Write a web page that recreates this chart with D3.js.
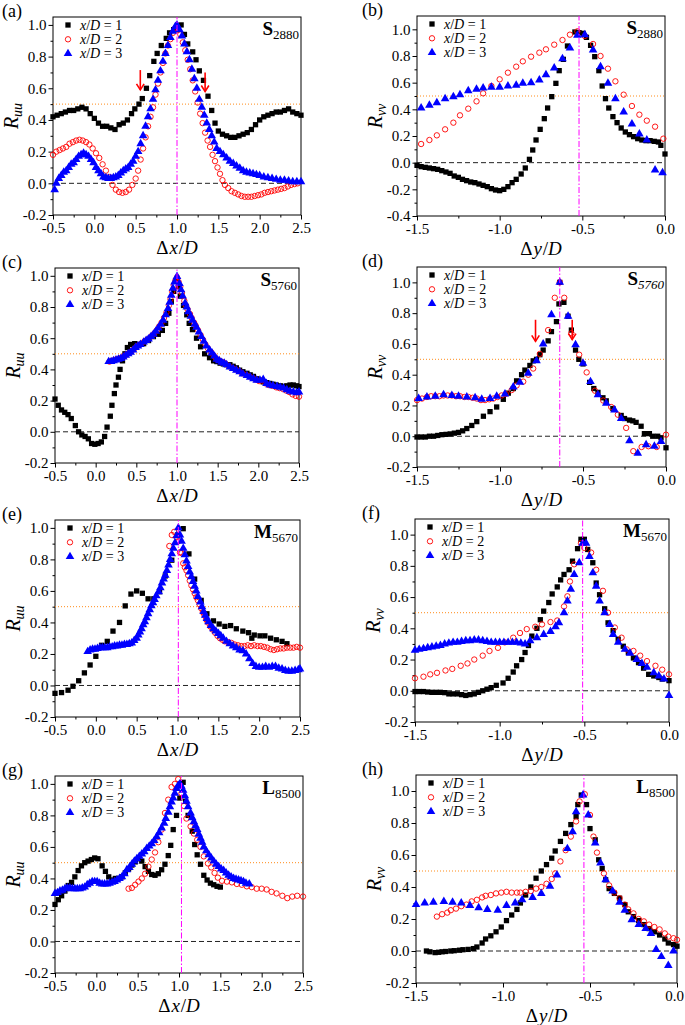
<!DOCTYPE html>
<html><head><meta charset="utf-8">
<script src="https://cdn.jsdelivr.net/npm/d3@7"></script>
<style>
body{margin:0;background:#fff}
svg{display:block}
text{font-family:"Liberation Serif","Times New Roman",serif;fill:#000}
</style>
</head><body>
<svg id="c" width="685" height="1025"></svg>
<script>
// ---------- tick labels / categories ----------
const xTicksU = [-0.5, 0.0, 0.5, 1.0, 1.5, 2.0, 2.5];
const xTicksV = [-1.5, -1.0, -0.5, 0.0];
const yTicksA = [-0.2, 0.0, 0.2, 0.4, 0.6, 0.8, 1.0];
const yTicksB = [-0.4, -0.2, 0.0, 0.2, 0.4, 0.6, 0.8, 1.0];
const seriesLabels = ["1", "2", "3"];
const panelTags = ["(a)","(b)","(c)","(d)","(e)","(f)","(g)","(h)"];
const caseLetters = ["S","S","S","S","M","M","L","L"];
const caseNumbers = ["2880","2880","5760","5760","5670","5670","8500","8500"];
const peakX = [1.0, -0.52, 1.0, -0.64, 1.01, -0.51, 1.03, -0.535];
const arrowsA = [[0.556, 0.715, 0.59], [1.34, 0.70, 0.58]];
const arrowsD = [[-0.786, 0.757, 0.617], [-0.565, 0.757, 0.628]];

// ---------- panel (a) R_uu S2880 ----------
const a1 = [[-0.5,0.42],[-0.45,0.43],[-0.4,0.44],[-0.35,0.45],[-0.3,0.46],[-0.25,0.46],[-0.2,0.47],[-0.15,0.48],[-0.1,0.47],[-0.05,0.44],[0,0.41],[0.05,0.38],[0.1,0.36],[0.15,0.36],[0.2,0.35],[0.25,0.34],[0.3,0.37],[0.35,0.38],[0.4,0.40],[0.45,0.44],[0.49,0.47],[0.54,0.5],[0.58,0.535],[0.63,0.6],[0.67,0.68],[0.72,0.77],[0.76,0.82],[0.81,0.87],[0.87,0.915],[0.91,0.95],[0.96,0.97],[1.0,0.99],[1.05,1.0],[1.09,0.94],[1.13,0.88],[1.19,0.83],[1.23,0.78],[1.27,0.71],[1.32,0.65],[1.375,0.55],[1.42,0.46],[1.46,0.38],[1.5,0.33],[1.55,0.31],[1.6,0.3],[1.65,0.29],[1.7,0.29],[1.75,0.3],[1.8,0.31],[1.85,0.32],[1.9,0.34],[1.95,0.37],[2.0,0.4],[2.05,0.42],[2.1,0.43],[2.15,0.44],[2.2,0.45],[2.25,0.45],[2.3,0.46],[2.35,0.47],[2.4,0.45],[2.45,0.44],[2.5,0.43]];
const a2 = [[-0.5,0.18],[-0.46,0.2],[-0.42,0.21],[-0.38,0.22],[-0.34,0.23],[-0.3,0.25],[-0.26,0.26],[-0.22,0.27],[-0.18,0.275],[-0.14,0.27],[-0.1,0.26],[-0.06,0.245],[-0.02,0.22],[0.02,0.19],[0.06,0.16],[0.1,0.12],[0.14,0.08],[0.18,0.04],[0.22,-0.01],[0.26,-0.04],[0.3,-0.055],[0.34,-0.06],[0.38,-0.055],[0.42,-0.04],[0.46,-0.01],[0.5,0.03],[0.53,0.08],[0.56,0.15],[0.59,0.22],[0.62,0.29],[0.65,0.36],[0.68,0.42],[0.71,0.48],[0.74,0.56],[0.77,0.63],[0.8,0.70],[0.83,0.76],[0.86,0.82],[0.89,0.87],[0.92,0.91],[0.95,0.95],[0.98,0.98],[1.01,0.97],[1.04,0.94],[1.07,0.89],[1.1,0.84],[1.13,0.78],[1.16,0.72],[1.19,0.65],[1.22,0.58],[1.25,0.51],[1.28,0.44],[1.31,0.38],[1.34,0.32],[1.37,0.27],[1.4,0.23],[1.43,0.18],[1.46,0.14],[1.49,0.1],[1.52,0.06],[1.55,0.02],[1.58,-0.01],[1.62,-0.03],[1.66,-0.05],[1.7,-0.06],[1.74,-0.07],[1.78,-0.08],[1.82,-0.085],[1.86,-0.085],[1.9,-0.085],[1.94,-0.08],[1.98,-0.075],[2.02,-0.07],[2.06,-0.06],[2.1,-0.055],[2.14,-0.05],[2.18,-0.045],[2.22,-0.04],[2.26,-0.035],[2.3,-0.03],[2.34,-0.02],[2.38,-0.01],[2.42,-0.005],[2.46,0.0]];
const a3 = [[-0.48,-0.04],[-0.46,0.0],[-0.43,0.03],[-0.4,0.05],[-0.37,0.07],[-0.34,0.08],[-0.31,0.1],[-0.28,0.12],[-0.25,0.13],[-0.22,0.15],[-0.19,0.17],[-0.16,0.18],[-0.13,0.19],[-0.1,0.18],[-0.07,0.17],[-0.04,0.15],[-0.01,0.13],[0.02,0.1],[0.05,0.08],[0.08,0.06],[0.11,0.04],[0.14,0.035],[0.17,0.03],[0.2,0.03],[0.23,0.035],[0.26,0.04],[0.29,0.05],[0.32,0.065],[0.35,0.08],[0.38,0.09],[0.41,0.1],[0.44,0.12],[0.47,0.14],[0.5,0.17],[0.53,0.2],[0.56,0.25],[0.59,0.3],[0.62,0.36],[0.65,0.42],[0.68,0.47],[0.71,0.53],[0.74,0.59],[0.77,0.65],[0.8,0.71],[0.83,0.77],[0.86,0.82],[0.89,0.87],[0.92,0.92],[0.95,0.96],[0.98,0.99],[1.0,1.0],[1.03,0.97],[1.06,0.93],[1.09,0.88],[1.12,0.83],[1.15,0.78],[1.18,0.72],[1.21,0.66],[1.24,0.6],[1.27,0.53],[1.3,0.48],[1.33,0.43],[1.36,0.38],[1.39,0.34],[1.42,0.3],[1.45,0.26],[1.48,0.22],[1.52,0.2],[1.56,0.18],[1.6,0.16],[1.64,0.14],[1.68,0.125],[1.72,0.11],[1.76,0.095],[1.8,0.08],[1.84,0.07],[1.88,0.065],[1.92,0.06],[1.96,0.055],[2.0,0.05],[2.05,0.04],[2.1,0.035],[2.15,0.03],[2.2,0.025],[2.25,0.02],[2.3,0.02],[2.35,0.015],[2.4,0.01],[2.45,0.01],[2.5,0.01]];

// ---------- panel (b) R_vv S2880 ----------
const b1 = [[-1.5,-0.02],[-1.475,-0.03],[-1.45,-0.035],[-1.425,-0.04],[-1.4,-0.045],[-1.375,-0.05],[-1.35,-0.06],[-1.325,-0.07],[-1.3,-0.08],[-1.275,-0.1],[-1.25,-0.11],[-1.225,-0.125],[-1.2,-0.135],[-1.175,-0.145],[-1.15,-0.15],[-1.125,-0.16],[-1.1,-0.17],[-1.075,-0.18],[-1.05,-0.195],[-1.025,-0.205],[-1.0,-0.21],[-0.975,-0.2],[-0.95,-0.18],[-0.925,-0.15],[-0.9,-0.125],[-0.87,-0.085],[-0.845,-0.04],[-0.82,0.025],[-0.8,0.095],[-0.78,0.17],[-0.755,0.25],[-0.73,0.33],[-0.71,0.41],[-0.685,0.495],[-0.66,0.595],[-0.64,0.69],[-0.615,0.775],[-0.59,0.875],[-0.545,0.98],[-0.52,0.975],[-0.495,0.97],[-0.475,0.94],[-0.45,0.88],[-0.425,0.795],[-0.4,0.69],[-0.38,0.575],[-0.36,0.48],[-0.34,0.41],[-0.315,0.345],[-0.29,0.3],[-0.265,0.26],[-0.24,0.23],[-0.215,0.21],[-0.19,0.195],[-0.165,0.18],[-0.14,0.17],[-0.115,0.165],[-0.09,0.165],[-0.065,0.16],[-0.04,0.155],[-0.025,0.13],[0,0.065]];
const b2 = [[-1.475,0.14],[-1.425,0.17],[-1.38,0.205],[-1.33,0.25],[-1.28,0.3],[-1.24,0.355],[-1.19,0.405],[-1.14,0.46],[-1.1,0.52],[-1.05,0.575],[-1.0,0.625],[-0.95,0.675],[-0.9,0.72],[-0.86,0.76],[-0.81,0.795],[-0.76,0.825],[-0.72,0.85],[-0.67,0.885],[-0.62,0.92],[-0.575,0.96],[-0.53,0.985],[-0.485,0.95],[-0.435,0.89],[-0.39,0.8],[-0.345,0.705],[-0.3,0.61],[-0.25,0.51],[-0.2,0.425],[-0.155,0.36],[-0.11,0.315],[-0.06,0.27],[-0.01,0.18]];
const b3 = [[-1.475,0.41],[-1.425,0.43],[-1.38,0.45],[-1.33,0.48],[-1.28,0.495],[-1.24,0.51],[-1.19,0.54],[-1.14,0.55],[-1.1,0.56],[-1.05,0.565],[-1.0,0.565],[-0.95,0.575],[-0.9,0.58],[-0.86,0.595],[-0.81,0.6],[-0.76,0.62],[-0.72,0.66],[-0.67,0.71],[-0.62,0.78],[-0.575,0.86],[-0.53,0.955],[-0.485,0.96],[-0.435,0.845],[-0.39,0.72],[-0.345,0.595],[-0.3,0.48],[-0.25,0.38],[-0.2,0.29],[-0.155,0.215],[-0.11,0.17],[-0.06,-0.055],[-0.015,-0.075]];

// ---------- panel (c) R_uu S5760 ----------
const c1 = [[-0.5,0.21],[-0.46,0.17],[-0.42,0.14],[-0.38,0.125],[-0.34,0.11],[-0.3,0.085],[-0.25,0.04],[-0.21,0.0],[-0.17,-0.02],[-0.13,-0.03],[-0.09,-0.045],[-0.05,-0.075],[-0.01,-0.08],[0.03,-0.075],[0.07,-0.065],[0.11,-0.03],[0.14,0.03],[0.18,0.1],[0.2,0.17],[0.23,0.245],[0.25,0.3],[0.28,0.35],[0.3,0.4],[0.33,0.455],[0.36,0.5],[0.39,0.54],[0.43,0.56],[0.48,0.565],[0.54,0.56],[0.59,0.565],[0.65,0.585],[0.71,0.61],[0.77,0.625],[0.82,0.65],[0.86,0.695],[0.9,0.76],[0.93,0.835],[0.96,0.9],[0.99,0.965],[1.02,0.93],[1.04,0.87],[1.08,0.81],[1.12,0.75],[1.15,0.695],[1.19,0.655],[1.24,0.6],[1.29,0.545],[1.34,0.5],[1.4,0.475],[1.45,0.455],[1.49,0.45],[1.53,0.44],[1.57,0.435],[1.61,0.43],[1.65,0.43],[1.69,0.42],[1.73,0.41],[1.77,0.395],[1.81,0.385],[1.86,0.375],[1.9,0.365],[1.94,0.355],[1.98,0.34],[2.02,0.33],[2.06,0.32],[2.1,0.315],[2.14,0.31],[2.18,0.305],[2.22,0.3],[2.27,0.295],[2.31,0.29],[2.35,0.295],[2.39,0.3],[2.43,0.3],[2.47,0.295],[2.5,0.29]];
const c2 = [[0.17,0.45],[0.2,0.455],[0.23,0.46],[0.26,0.465],[0.29,0.47],[0.32,0.475],[0.35,0.485],[0.38,0.495],[0.41,0.505],[0.44,0.515],[0.47,0.53],[0.5,0.545],[0.53,0.555],[0.56,0.565],[0.6,0.58],[0.63,0.59],[0.66,0.6],[0.69,0.615],[0.72,0.63],[0.75,0.65],[0.78,0.675],[0.81,0.7],[0.84,0.73],[0.87,0.765],[0.9,0.81],[0.92,0.85],[0.94,0.9],[0.96,0.94],[0.98,0.97],[1.0,0.99],[1.02,0.96],[1.04,0.93],[1.06,0.89],[1.09,0.84],[1.11,0.81],[1.13,0.785],[1.16,0.755],[1.18,0.73],[1.21,0.7],[1.23,0.68],[1.26,0.65],[1.29,0.62],[1.32,0.59],[1.35,0.56],[1.38,0.535],[1.42,0.51],[1.45,0.49],[1.48,0.47],[1.51,0.46],[1.54,0.45],[1.57,0.445],[1.6,0.435],[1.64,0.42],[1.68,0.41],[1.72,0.4],[1.76,0.39],[1.8,0.375],[1.85,0.365],[1.89,0.355],[1.93,0.345],[1.97,0.335],[2.01,0.325],[2.05,0.33],[2.09,0.31],[2.13,0.3],[2.17,0.295],[2.22,0.285],[2.26,0.28],[2.3,0.275],[2.34,0.265],[2.38,0.255],[2.42,0.24],[2.46,0.23],[2.5,0.225]];
const c3 = [[0.16,0.45],[0.19,0.45],[0.22,0.455],[0.25,0.46],[0.28,0.465],[0.31,0.47],[0.34,0.48],[0.37,0.49],[0.4,0.5],[0.43,0.51],[0.46,0.525],[0.49,0.54],[0.52,0.55],[0.55,0.56],[0.59,0.575],[0.62,0.585],[0.65,0.595],[0.68,0.61],[0.71,0.625],[0.74,0.645],[0.77,0.665],[0.8,0.69],[0.83,0.715],[0.86,0.75],[0.89,0.79],[0.91,0.83],[0.93,0.875],[0.95,0.92],[0.97,0.96],[1.0,0.995],[1.03,0.95],[1.05,0.91],[1.07,0.87],[1.1,0.825],[1.12,0.8],[1.14,0.77],[1.17,0.74],[1.19,0.715],[1.22,0.69],[1.24,0.67],[1.27,0.64],[1.3,0.61],[1.33,0.58],[1.36,0.55],[1.4,0.525],[1.43,0.505],[1.46,0.485],[1.49,0.465],[1.52,0.455],[1.55,0.445],[1.58,0.44],[1.61,0.43],[1.65,0.415],[1.69,0.405],[1.73,0.395],[1.77,0.385],[1.81,0.37],[1.86,0.36],[1.9,0.35],[1.94,0.34],[1.98,0.33],[2.02,0.33],[2.06,0.335],[2.1,0.31],[2.14,0.3],[2.18,0.295],[2.23,0.29],[2.27,0.285],[2.31,0.28],[2.35,0.27],[2.39,0.26],[2.43,0.255],[2.47,0.25],[2.5,0.255]];

// ---------- panel (d) R_vv S5760 ----------
const d1 = [[-1.5,-0.005],[-1.475,-0.005],[-1.45,-0.005],[-1.425,0.0],[-1.4,0.0],[-1.375,0.005],[-1.35,0.01],[-1.325,0.012],[-1.3,0.015],[-1.275,0.02],[-1.25,0.025],[-1.225,0.035],[-1.2,0.05],[-1.17,0.07],[-1.14,0.095],[-1.1,0.13],[-1.06,0.16],[-1.02,0.19],[-0.98,0.24],[-0.95,0.28],[-0.92,0.31],[-0.9,0.36],[-0.87,0.4],[-0.85,0.43],[-0.82,0.46],[-0.8,0.49],[-0.78,0.5],[-0.76,0.53],[-0.74,0.56],[-0.71,0.62],[-0.69,0.68],[-0.66,0.745],[-0.645,0.86],[-0.64,1.0],[-0.615,0.87],[-0.59,0.78],[-0.57,0.69],[-0.545,0.56],[-0.525,0.5],[-0.5,0.47],[-0.46,0.35],[-0.435,0.31],[-0.41,0.285],[-0.38,0.25],[-0.36,0.23],[-0.32,0.18],[-0.27,0.135],[-0.25,0.115],[-0.22,0.105],[-0.2,0.1],[-0.18,0.09],[-0.15,0.065],[-0.13,0.017],[-0.1,0.017],[-0.08,0.0],[-0.05,0.0],[-0.03,-0.01],[0.0,-0.075]];
const d2 = [[-1.5,0.235],[-1.47,0.245],[-1.44,0.255],[-1.415,0.26],[-1.39,0.26],[-1.365,0.26],[-1.34,0.265],[-1.315,0.265],[-1.29,0.265],[-1.265,0.26],[-1.24,0.26],[-1.215,0.255],[-1.19,0.255],[-1.165,0.25],[-1.14,0.245],[-1.115,0.235],[-1.09,0.235],[-1.065,0.24],[-1.04,0.245],[-1.015,0.255],[-0.99,0.265],[-0.965,0.275],[-0.93,0.3],[-0.9,0.33],[-0.86,0.355],[-0.83,0.4],[-0.8,0.44],[-0.76,0.535],[-0.71,0.69],[-0.67,0.9],[-0.64,1.0],[-0.613,0.9],[-0.57,0.67],[-0.523,0.53],[-0.478,0.415],[-0.428,0.296],[-0.378,0.232],[-0.33,0.19],[-0.29,0.14],[-0.24,0.054],[-0.197,-0.097],[-0.147,-0.07],[-0.106,-0.065],[-0.056,-0.07],[0.0,0.01]];
const d3s = [[-1.49,0.245],[-1.44,0.255],[-1.39,0.26],[-1.34,0.27],[-1.29,0.265],[-1.25,0.26],[-1.2,0.255],[-1.15,0.25],[-1.11,0.24],[-1.06,0.245],[-1.02,0.26],[-0.97,0.275],[-0.92,0.32],[-0.88,0.35],[-0.83,0.41],[-0.78,0.49],[-0.74,0.6],[-0.69,0.79],[-0.64,1.0],[-0.59,0.78],[-0.545,0.595],[-0.5,0.475],[-0.455,0.355],[-0.41,0.27],[-0.36,0.215],[-0.31,0.17],[-0.27,0.115],[-0.22,-0.03],[-0.17,-0.11],[-0.12,-0.055],[-0.07,-0.065],[-0.03,-0.035]];

// ---------- panel (e) R_uu M5670 ----------
const e1 = [[-0.5,-0.05],[-0.42,-0.045],[-0.34,-0.03],[-0.28,-0.005],[-0.21,0.03],[-0.14,0.08],[-0.07,0.13],[0.0,0.185],[0.07,0.255],[0.14,0.28],[0.21,0.345],[0.29,0.4],[0.36,0.505],[0.43,0.58],[0.5,0.6],[0.57,0.585],[0.64,0.55],[0.71,0.55],[0.78,0.595],[0.85,0.695],[0.93,0.795],[1.0,0.955],[1.07,0.995],[1.14,0.835],[1.21,0.675],[1.29,0.54],[1.36,0.455],[1.44,0.41],[1.51,0.39],[1.58,0.375],[1.65,0.38],[1.72,0.36],[1.8,0.345],[1.87,0.335],[1.91,0.3],[1.94,0.32],[2.01,0.315],[2.07,0.315],[2.14,0.3],[2.21,0.29],[2.28,0.28],[2.34,0.265]];
const e2 = [[0.9,0.885],[0.93,0.955],[0.96,0.975],[0.99,0.94],[1.01,0.915],[1.03,0.845],[1.05,0.84],[1.07,0.775],[1.09,0.75],[1.11,0.73],[1.13,0.7],[1.15,0.665],[1.17,0.635],[1.19,0.61],[1.21,0.585],[1.23,0.56],[1.25,0.54],[1.27,0.515],[1.29,0.49],[1.31,0.465],[1.33,0.445],[1.35,0.42],[1.37,0.4],[1.4,0.375],[1.43,0.355],[1.46,0.335],[1.49,0.315],[1.52,0.3],[1.55,0.29],[1.58,0.28],[1.62,0.275],[1.66,0.27],[1.7,0.26],[1.74,0.255],[1.78,0.25],[1.82,0.25],[1.86,0.255],[1.9,0.25],[1.94,0.255],[1.98,0.25],[2.02,0.25],[2.06,0.245],[2.1,0.24],[2.14,0.23],[2.18,0.225],[2.22,0.23],[2.26,0.235],[2.3,0.235],[2.34,0.24],[2.38,0.24],[2.42,0.24],[2.46,0.245],[2.5,0.24]];
const e3 = [[-0.1,0.215],[-0.07,0.225],[-0.04,0.23],[-0.01,0.23],[0.02,0.235],[0.05,0.24],[0.08,0.24],[0.11,0.24],[0.14,0.24],[0.17,0.245],[0.2,0.245],[0.23,0.25],[0.26,0.25],[0.29,0.255],[0.32,0.255],[0.35,0.26],[0.38,0.26],[0.41,0.265],[0.44,0.27],[0.47,0.285],[0.5,0.3],[0.52,0.32],[0.54,0.34],[0.56,0.36],[0.58,0.385],[0.6,0.405],[0.62,0.43],[0.64,0.455],[0.66,0.48],[0.68,0.505],[0.7,0.525],[0.72,0.545],[0.74,0.57],[0.77,0.595],[0.79,0.62],[0.81,0.65],[0.83,0.675],[0.85,0.7],[0.87,0.73],[0.89,0.765],[0.91,0.8],[0.93,0.835],[0.95,0.87],[0.97,0.905],[0.99,0.95],[1.01,1.0],[1.03,0.955],[1.05,0.915],[1.07,0.87],[1.09,0.83],[1.11,0.79],[1.13,0.755],[1.15,0.72],[1.17,0.69],[1.19,0.66],[1.21,0.63],[1.23,0.6],[1.25,0.565],[1.28,0.53],[1.3,0.5],[1.32,0.47],[1.34,0.445],[1.36,0.425],[1.38,0.405],[1.41,0.38],[1.44,0.36],[1.47,0.345],[1.5,0.33],[1.53,0.315],[1.56,0.3],[1.6,0.28],[1.64,0.265],[1.68,0.25],[1.72,0.24],[1.76,0.225],[1.8,0.22],[1.84,0.2],[1.88,0.17],[1.92,0.14],[1.96,0.12],[2.0,0.115],[2.04,0.115],[2.08,0.12],[2.12,0.115],[2.16,0.12],[2.2,0.12],[2.24,0.11],[2.28,0.105],[2.32,0.095],[2.36,0.09],[2.4,0.09],[2.44,0.095],[2.48,0.1],[2.5,0.105]];

// ---------- panel (f) R_vv M5670 ----------
const f1 = [[-1.5,-0.005],[-1.475,-0.005],[-1.45,-0.005],[-1.425,-0.008],[-1.4,-0.01],[-1.375,-0.01],[-1.35,-0.01],[-1.325,-0.012],[-1.3,-0.02],[-1.275,-0.02],[-1.25,-0.02],[-1.225,-0.025],[-1.2,-0.03],[-1.175,-0.025],[-1.15,-0.02],[-1.125,-0.01],[-1.1,0.0],[-1.075,0.01],[-1.05,0.02],[-1.02,0.035],[-0.98,0.05],[-0.95,0.08],[-0.92,0.12],[-0.9,0.16],[-0.87,0.2],[-0.85,0.245],[-0.83,0.29],[-0.81,0.35],[-0.78,0.4],[-0.76,0.455],[-0.74,0.51],[-0.71,0.565],[-0.69,0.62],[-0.66,0.665],[-0.64,0.71],[-0.62,0.745],[-0.59,0.775],[-0.57,0.83],[-0.54,0.91],[-0.52,0.97],[-0.5,0.97],[-0.48,0.905],[-0.45,0.82],[-0.43,0.69],[-0.41,0.615],[-0.38,0.525],[-0.36,0.435],[-0.33,0.385],[-0.3,0.33],[-0.27,0.285],[-0.24,0.245],[-0.21,0.21],[-0.18,0.18],[-0.15,0.145],[-0.12,0.105],[-0.09,0.095],[-0.06,0.085],[-0.04,0.075],[0.0,0.065]];
const f2 = [[-1.5,0.08],[-1.45,0.09],[-1.41,0.105],[-1.37,0.115],[-1.32,0.13],[-1.28,0.14],[-1.23,0.16],[-1.19,0.175],[-1.15,0.2],[-1.1,0.225],[-1.06,0.255],[-1.01,0.275],[-0.97,0.31],[-0.92,0.34],[-0.88,0.37],[-0.84,0.395],[-0.79,0.41],[-0.75,0.425],[-0.7,0.44],[-0.66,0.45],[-0.62,0.54],[-0.6,0.605],[-0.585,0.7],[-0.56,0.81],[-0.52,0.945],[-0.5,0.915],[-0.46,0.885],[-0.43,0.775],[-0.39,0.64],[-0.36,0.5],[-0.32,0.405],[-0.28,0.34],[-0.25,0.265],[-0.21,0.255],[-0.17,0.225],[-0.13,0.19],[-0.08,0.16],[-0.04,0.135],[0.0,0.105]];
const f3 = [[-1.5,0.26],[-1.475,0.265],[-1.45,0.27],[-1.425,0.275],[-1.4,0.28],[-1.375,0.285],[-1.35,0.29],[-1.325,0.3],[-1.3,0.305],[-1.275,0.31],[-1.25,0.31],[-1.225,0.315],[-1.2,0.32],[-1.175,0.32],[-1.15,0.325],[-1.125,0.325],[-1.1,0.32],[-1.075,0.315],[-1.05,0.31],[-1.025,0.31],[-1.0,0.31],[-0.975,0.31],[-0.95,0.31],[-0.925,0.31],[-0.9,0.31],[-0.875,0.305],[-0.85,0.3],[-0.82,0.32],[-0.78,0.34],[-0.74,0.36],[-0.7,0.38],[-0.67,0.41],[-0.65,0.435],[-0.62,0.5],[-0.6,0.575],[-0.58,0.65],[-0.56,0.745],[-0.53,0.82],[-0.51,0.945],[-0.49,0.945],[-0.47,0.86],[-0.45,0.755],[-0.43,0.67],[-0.41,0.575],[-0.38,0.5],[-0.35,0.425],[-0.33,0.36],[-0.3,0.31],[-0.26,0.265],[-0.23,0.24],[-0.19,0.2],[-0.16,0.175],[-0.13,0.15],[-0.09,0.115],[-0.06,0.095],[-0.03,0.075],[0.0,-0.03]];

// ---------- panel (g) R_uu L8500 ----------
const g1 = [[-0.5,0.235],[-0.46,0.265],[-0.42,0.29],[-0.38,0.32],[-0.34,0.355],[-0.3,0.375],[-0.26,0.41],[-0.22,0.45],[-0.18,0.48],[-0.14,0.5],[-0.1,0.51],[-0.06,0.52],[-0.02,0.53],[0.02,0.525],[0.07,0.48],[0.11,0.445],[0.15,0.41],[0.19,0.39],[0.23,0.4],[0.27,0.4],[0.31,0.41],[0.35,0.435],[0.39,0.46],[0.43,0.485],[0.47,0.505],[0.51,0.525],[0.55,0.51],[0.59,0.475],[0.63,0.445],[0.67,0.425],[0.71,0.42],[0.75,0.43],[0.79,0.455],[0.83,0.49],[0.87,0.545],[0.9,0.61],[0.93,0.71],[0.97,0.8],[1.01,0.91],[1.05,1.01],[1.08,0.89],[1.11,0.8],[1.16,0.7],[1.19,0.615],[1.22,0.55],[1.26,0.49],[1.3,0.42],[1.34,0.39],[1.38,0.37],[1.42,0.36],[1.46,0.35],[1.5,0.345]];
const g2 = [[0.39,0.335],[0.43,0.34],[0.47,0.36],[0.51,0.38],[0.55,0.4],[0.59,0.43],[0.63,0.475],[0.67,0.52],[0.71,0.565],[0.75,0.63],[0.79,0.71],[0.83,0.815],[0.87,0.9],[0.91,0.98],[0.95,1.0],[0.99,1.03],[1.03,0.94],[1.06,0.86],[1.09,0.78],[1.14,0.73],[1.18,0.685],[1.22,0.645],[1.26,0.6],[1.3,0.54],[1.35,0.495],[1.39,0.47],[1.43,0.435],[1.47,0.405],[1.52,0.385],[1.58,0.38],[1.64,0.375],[1.7,0.365],[1.76,0.36],[1.82,0.35],[1.88,0.345],[1.94,0.335],[2.0,0.335],[2.06,0.33],[2.12,0.315],[2.18,0.305],[2.25,0.29],[2.31,0.275],[2.37,0.285],[2.43,0.29],[2.5,0.285]];
const g3 = [[-0.5,0.305],[-0.47,0.31],[-0.44,0.32],[-0.41,0.325],[-0.38,0.335],[-0.35,0.34],[-0.32,0.34],[-0.29,0.335],[-0.26,0.335],[-0.23,0.335],[-0.2,0.335],[-0.17,0.34],[-0.14,0.345],[-0.11,0.36],[-0.08,0.37],[-0.05,0.38],[-0.02,0.38],[0.01,0.38],[0.04,0.37],[0.07,0.365],[0.1,0.365],[0.13,0.365],[0.16,0.37],[0.19,0.375],[0.22,0.38],[0.25,0.39],[0.28,0.4],[0.31,0.41],[0.34,0.43],[0.37,0.455],[0.4,0.47],[0.43,0.49],[0.46,0.51],[0.49,0.525],[0.52,0.54],[0.55,0.555],[0.58,0.57],[0.61,0.59],[0.64,0.605],[0.67,0.62],[0.7,0.64],[0.73,0.665],[0.76,0.69],[0.79,0.72],[0.82,0.75],[0.84,0.78],[0.87,0.82],[0.89,0.855],[0.91,0.885],[0.93,0.91],[0.95,0.94],[0.97,0.97],[0.99,0.99],[1.01,1.0],[1.03,0.985],[1.05,0.96],[1.07,0.925],[1.09,0.89],[1.11,0.855],[1.14,0.815],[1.16,0.785],[1.18,0.76],[1.2,0.735],[1.22,0.71],[1.24,0.68],[1.26,0.655],[1.28,0.63],[1.3,0.6],[1.33,0.575],[1.36,0.55],[1.39,0.53],[1.42,0.51],[1.45,0.49],[1.48,0.475],[1.51,0.46],[1.54,0.45],[1.57,0.435],[1.6,0.42],[1.63,0.41],[1.66,0.4],[1.69,0.395],[1.72,0.39],[1.75,0.385],[1.78,0.38],[1.81,0.37],[1.85,0.365]];

// ---------- panel (h) R_vv L8500 ----------
const h1 = [[-1.44,0.0],[-1.42,-0.005],[-1.39,-0.01],[-1.37,-0.008],[-1.35,-0.005],[-1.33,-0.003],[-1.3,0.0],[-1.28,0.002],[-1.25,0.005],[-1.23,0.008],[-1.2,0.01],[-1.17,0.015],[-1.15,0.025],[-1.12,0.05],[-1.1,0.075],[-1.07,0.095],[-1.04,0.12],[-1.01,0.15],[-0.98,0.19],[-0.95,0.225],[-0.92,0.26],[-0.9,0.3],[-0.87,0.35],[-0.84,0.4],[-0.81,0.455],[-0.78,0.5],[-0.75,0.54],[-0.72,0.58],[-0.7,0.625],[-0.67,0.685],[-0.64,0.735],[-0.61,0.79],[-0.58,0.84],[-0.57,0.915],[-0.55,0.975],[-0.52,0.915],[-0.5,0.765],[-0.47,0.695],[-0.45,0.57],[-0.43,0.515],[-0.41,0.445],[-0.39,0.39],[-0.36,0.36],[-0.33,0.33],[-0.3,0.29],[-0.28,0.245],[-0.25,0.215],[-0.22,0.19],[-0.19,0.165],[-0.16,0.14],[-0.13,0.12],[-0.1,0.1],[-0.07,0.075],[-0.05,0.05],[-0.02,0.04],[0.0,0.03]];
const h2 = [[-1.38,0.215],[-1.35,0.23],[-1.32,0.24],[-1.3,0.255],[-1.27,0.265],[-1.24,0.28],[-1.21,0.29],[-1.18,0.31],[-1.15,0.32],[-1.12,0.335],[-1.1,0.345],[-1.07,0.35],[-1.04,0.36],[-1.01,0.365],[-0.98,0.37],[-0.95,0.365],[-0.92,0.365],[-0.9,0.365],[-0.87,0.37],[-0.84,0.375],[-0.81,0.39],[-0.78,0.4],[-0.75,0.42],[-0.72,0.45],[-0.7,0.485],[-0.67,0.56],[-0.64,0.63],[-0.61,0.715],[-0.58,0.81],[-0.56,0.935],[-0.53,0.98],[-0.5,0.85],[-0.48,0.715],[-0.46,0.615],[-0.42,0.485],[-0.39,0.41],[-0.36,0.365],[-0.33,0.33],[-0.3,0.29],[-0.28,0.26],[-0.25,0.235],[-0.22,0.2],[-0.19,0.185],[-0.16,0.165],[-0.13,0.15],[-0.1,0.135],[-0.07,0.11],[-0.05,0.09],[-0.02,0.08],[0.0,0.07]];
const h3 = [[-1.5,0.29],[-1.45,0.3],[-1.4,0.305],[-1.34,0.31],[-1.29,0.305],[-1.24,0.3],[-1.19,0.285],[-1.14,0.27],[-1.09,0.26],[-1.03,0.255],[-0.98,0.285],[-0.93,0.3],[-0.89,0.32],[-0.83,0.335],[-0.78,0.36],[-0.73,0.405],[-0.69,0.475],[-0.63,0.64],[-0.6,0.745],[-0.58,0.87],[-0.54,0.975],[-0.51,0.85],[-0.47,0.675],[-0.44,0.55],[-0.41,0.445],[-0.37,0.375],[-0.33,0.305],[-0.3,0.255],[-0.26,0.195],[-0.22,0.165],[-0.18,0.14],[-0.15,0.11],[-0.12,0.01],[-0.09,-0.035],[-0.05,-0.09],[-0.02,0.0]];

// ---------- layout (pixels) ----------
const svg = d3.select("#c");
const FONT = '"Liberation Serif","Times New Roman",serif';
const panels = [
  {box:[53,17,301,215],   xdom:[-0.5,2.5], ydom:[-0.2,1.05], xt:xTicksU, yt:yTicksA, data:[a1,a2,a3], comp:"uu", dx:"x", arrows:arrowsA},
  {box:[417,16,665,216],  xdom:[-1.5,0],   ydom:[-0.4,1.1],  xt:xTicksV, yt:yTicksB, data:[b1,b2,b3], comp:"vv", dx:"y"},
  {box:[55,268,299,463],  xdom:[-0.5,2.5], ydom:[-0.2,1.05], xt:xTicksU, yt:yTicksA, data:[c1,c2,c3], comp:"uu", dx:"x"},
  {box:[417,267,666,467], xdom:[-1.5,0],   ydom:[-0.2,1.1],  xt:xTicksV, yt:yTicksA, data:[d1,d2,d3s], comp:"vv", dx:"y", arrows:arrowsD, subItalic:true},
  {box:[55,520,300,717],  xdom:[-0.5,2.5], ydom:[-0.2,1.05], xt:xTicksU, yt:yTicksA, data:[e1,e2,e3], comp:"uu", dx:"x"},
  {box:[415,519,669,722], xdom:[-1.5,0],   ydom:[-0.2,1.1],  xt:xTicksV, yt:yTicksA, data:[f1,f2,f3], comp:"vv", dx:"y"},
  {box:[55,776,303,973],  xdom:[-0.5,2.5], ydom:[-0.2,1.05], xt:xTicksU, yt:yTicksA, data:[g1,g2,g3], comp:"uu", dx:"x"},
  {box:[416,775,677,983], xdom:[-1.5,0],   ydom:[-0.2,1.1],  xt:xTicksV, yt:yTicksA, data:[h1,h2,h3], comp:"vv", dx:"y"}
];

const sq = d3.symbol(d3.symbolSquare, 28)();
const tri = d3.symbol(d3.symbolTriangle, 32)();

function marker(sel, k){
  if(k===0) sel.append("path").attr("d", sq).attr("fill","#000");
  else if(k===1) sel.append("circle").attr("r",2.7).attr("fill","none").attr("stroke","#f00").attr("stroke-width",0.9);
  else sel.append("path").attr("d", tri).attr("fill","#00f");
}

panels.forEach((P,i)=>{
  const [L,T,R,B] = P.box;
  const g = svg.append("g");
  const x = d3.scaleLinear().domain(P.xdom).range([L,R]);
  const y = d3.scaleLinear().domain(P.ydom).range([B,T]);
  const fmt = d => d.toFixed(1);

  // minor ticks
  const xs = P.xt[1]-P.xt[0], ys = P.yt[1]-P.yt[0];
  const xMinor = P.xt.slice(0,-1).map(v=>v+xs/2);
  const yMinor = P.yt.map(v=>v+ys/2).filter(v=>v<P.ydom[1]);
  g.append("g").attr("transform",`translate(0,${B})`)
    .call(d3.axisBottom(x).tickValues(xMinor).tickSize(2.5).tickFormat(""));
  g.append("g").attr("transform",`translate(${L},0)`)
    .call(d3.axisLeft(y).tickValues(yMinor).tickSize(2.5).tickFormat(""));
  const xa = g.append("g").attr("transform",`translate(0,${B})`)
    .call(d3.axisBottom(x).tickValues(P.xt).tickSize(4.5).tickPadding(3).tickFormat(fmt));
  g.append("g").attr("transform",`translate(${L},0)`)
    .call(d3.axisLeft(y).tickValues(P.yt).tickSize(4.5).tickPadding(2).tickFormat(fmt));
  g.selectAll(".domain").remove();
  g.selectAll(".tick line").attr("stroke","#000");
  g.selectAll(".tick text").attr("font-family",FONT).attr("font-size","15px").attr("fill","#000");
  if(R > 670) xa.selectAll(".tick text").filter(d=>d===0).attr("dx",-3);

  // frame
  g.append("rect").attr("x",L).attr("y",T).attr("width",R-L).attr("height",B-T)
    .attr("fill","none").attr("stroke","#000").attr("stroke-width",1);

  // reference lines
  g.append("line").attr("x1",L).attr("x2",R).attr("y1",y(0)).attr("y2",y(0))
    .attr("stroke","#222").attr("stroke-width",1).attr("stroke-dasharray","5,3");
  g.append("line").attr("x1",L).attr("x2",R).attr("y1",y(0.5)).attr("y2",y(0.5))
    .attr("stroke","#ff8c1a").attr("stroke-width",1).attr("stroke-dasharray","1,2");

  // markers
  P.data.forEach((s,k)=>{
    const grp = g.append("g");
    s.forEach(d=>{
      const m = grp.append("g").attr("transform",`translate(${x(d[0])},${y(d[1])})`);
      marker(m,k);
    });
  });

  // peak line
  g.append("line").attr("x1",x(peakX[i])).attr("x2",x(peakX[i])).attr("y1",B).attr("y2",T)
    .attr("stroke","#ff00ff").attr("stroke-width",1).attr("stroke-dasharray","6,2,1.5,2");

  // arrows
  if(P.arrows){
    P.arrows.forEach(a=>{
      const ax = x(a[0]), y0 = y(a[1]), y1 = y(a[2]);
      g.append("line").attr("x1",ax).attr("x2",ax).attr("y1",y0).attr("y2",y1)
        .attr("stroke","#f00").attr("stroke-width",1.6);
      g.append("path").attr("d",`M${ax-3.8},${y1-6}L${ax},${y1}L${ax+3.8},${y1-6}`)
        .attr("fill","none").attr("stroke","#f00").attr("stroke-width",1.6);
    });
  }

  // legend
  seriesLabels.forEach((lab,k)=>{
    const ly = T + 8 + k*14.3;
    const m = g.append("g").attr("transform",`translate(${L+15},${ly})`);
    marker(m,k);
    const t = g.append("text").attr("x",L+27).attr("y",ly+4.8).attr("font-size","14px").attr("font-family",FONT);
    t.append("tspan").attr("font-style","italic").text("x");
    t.append("tspan").text("/");
    t.append("tspan").attr("font-style","italic").text("D");
    t.append("tspan").text(" = " + lab);
  });

  // case annotation
  const ct = g.append("text").attr("x",R-2).attr("y",T+18).attr("text-anchor","end").attr("font-family",FONT);
  ct.append("tspan").attr("font-weight","bold").attr("font-size","19px").text(caseLetters[i]);
  const sub = ct.append("tspan").attr("font-size","13px").attr("dy",4).text(caseNumbers[i]);
  if(P.subItalic) sub.attr("font-style","italic");

  // panel tag
  svg.append("text").attr("x", i%2===0 ? 2 : 362).attr("y", T)
    .attr("font-size","18px").attr("font-family",FONT).text(panelTags[i]);

  // x-axis title
  const xt = svg.append("text").attr("x",(L+R)/2).attr("y",B+39).attr("text-anchor","middle")
    .attr("font-size","19px").attr("font-family",FONT);
  xt.append("tspan").text("\u0394");
  xt.append("tspan").attr("font-style","italic").attr("dx",1).text(P.dx);
  xt.append("tspan").attr("dx",1).text("/");
  xt.append("tspan").attr("font-style","italic").text("D");

  // y-axis title
  const yc = (T+B)/2, yx = L-35;
  const yt = svg.append("text").attr("transform",`translate(${yx},${yc}) rotate(-90)`)
    .attr("text-anchor","middle").attr("font-family",FONT).attr("font-style","italic");
  yt.append("tspan").attr("font-size","20px").text("R");
  yt.append("tspan").attr("font-size","14px").attr("dy",4).text(P.comp);
});
</script>
</body></html>
